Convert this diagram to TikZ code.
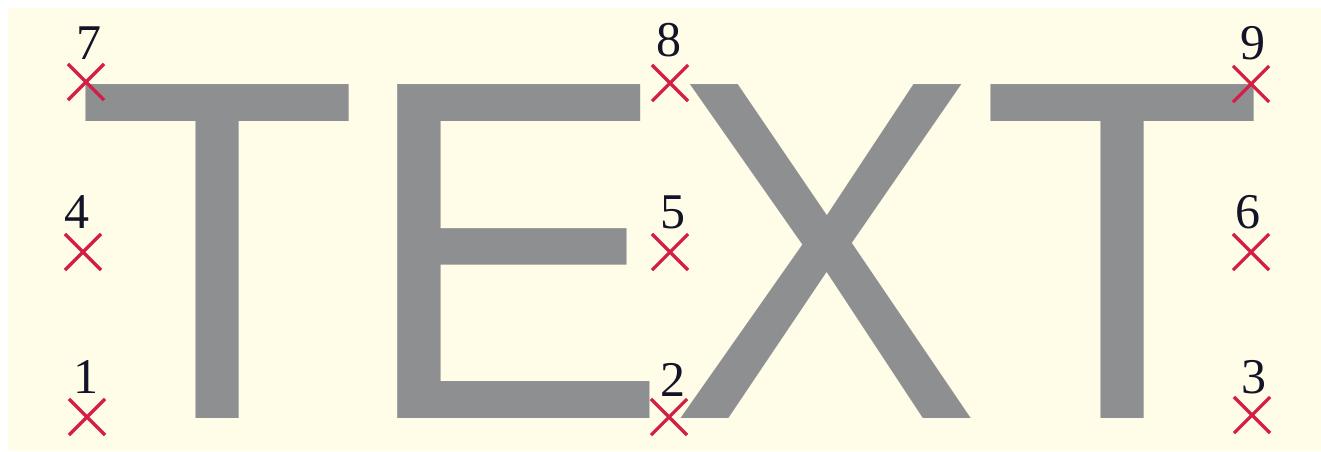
\documentclass[tikz,border=0pt]{standalone}
\usepackage{fontspec}
\setmainfont{Liberation Serif}
\newfontfamily\wordfont{Liberation Sans}
\usetikzlibrary{shapes.misc}

\definecolor{paper}{RGB}{255,252,232}
\definecolor{lettergray}{RGB}{142,143,145}
\definecolor{markred}{RGB}{212,30,70}
\definecolor{numink}{RGB}{20,20,40}

\tikzset{
  marker/.style={cross out, draw=markred, line width=1.6pt, inner sep=0pt,
                 minimum size=16.5pt},
  label num/.style={inner sep=0pt, text=numink, font=\fontsize{25}{25}\selectfont},
  bigword/.style={inner sep=0pt, anchor=base west, text=lettergray,
                  font=\wordfont\fontsize{242.7}{242.7}\selectfont},
}

\begin{document}
\begin{tikzpicture}[x=0.5pt, y=-0.5pt]
  % page and paper
  \useasboundingbox (0,0) rectangle (1321,451);
  \fill[white] (0,0) rectangle (1321,451);
  \fill[paper] (8,8) rectangle (1321,451);

  % the word, slightly condensed
  \node[bigword] (word) at (75,418) {\scalebox{0.959}[1]{TEXT}};

  % reference markers
  \node[marker] (c7) at (86,82)  {};
  \node[marker] (c8) at (670,83) {};
  \node[marker] (c9) at (1251,84) {};
  \node[marker] (c4) at (83,252) {};
  \node[marker] (c5) at (670,252) {};
  \node[marker] (c6) at (1251,252) {};
  \node[marker] (c1) at (87,417) {};
  \node[marker] (c2) at (669,417) {};
  \node[marker] (c3) at (1252,415) {};

  % marker numbers
  \node[label num] (n7) at (89,43)   {7};
  \node[label num] (n8) at (669,40)  {8};
  \node[label num] (n9) at (1253,43) {9};
  \node[label num] (n4) at (77,212)  {4};
  \node[label num] (n5) at (673,212) {5};
  \node[label num] (n6) at (1248,212) {6};
  \node[label num] (n1) at (86,377)  {1};
  \node[label num] (n2) at (673,380) {2};
  \node[label num] (n3) at (1254,377) {3};
\end{tikzpicture}
\end{document}
